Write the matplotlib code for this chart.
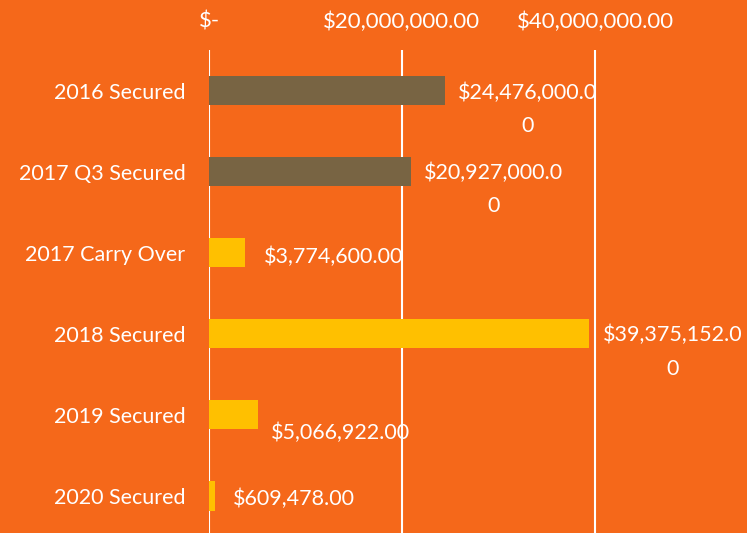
import matplotlib
matplotlib.use("Agg")
import matplotlib.pyplot as plt
from matplotlib.ticker import FixedLocator

categories = ["2016 Secured", "2017 Q3 Secured", "2017 Carry Over",
              "2018 Secured", "2019 Secured", "2020 Secured"]
amounts = [24476000.00, 20927000.00, 3774600.00, 39375152.00, 5066922.00, 609478.00]
bar_colors = ["#786443", "#786443", "#FFC000", "#FFC000", "#FFC000", "#FFC000"]
tick_values = [0, 20000000, 40000000]
tick_labels = ["$-", "$20,000,000.00", "$40,000,000.00"]

# label nudges in pixels (dx from bar end, dy from bar centre)
label_dx = [13, 13, 18, 14, 13, 18]
label_dy = [-10, -9, -2, -9, -16, -1]

BG = "#F5681A"
plt.rcParams["font.family"] = ["Lato", "DejaVu Sans"]

fig = plt.figure(figsize=(7.47, 5.33), dpi=100, facecolor=BG)
ax = fig.add_axes([209 / 747, -3.5 / 533, 538 / 747, 486.5 / 533], facecolor=BG)

ypos = list(range(len(categories)))
ax.barh(ypos, amounts, height=0.36, color=bar_colors, zorder=3)

ax.set_ylim(len(categories) - 0.5, -0.5)
ax.set_xlim(0, 538 / 193 * 20000000)
ax.set_yticks(ypos)
ax.set_yticklabels(categories)
ax.xaxis.set_major_locator(FixedLocator(tick_values))
ax.set_xticklabels(tick_labels)
ax.xaxis.tick_top()
ax.tick_params(axis="x", length=0, pad=13, labelsize=16, colors="white")
ax.tick_params(axis="y", length=0, pad=17, labelsize=15.5, colors="white")
ax.grid(axis="x", color="white", linewidth=1.5, zorder=1)
for s in ax.spines.values():
    s.set_visible(False)

for i, v in enumerate(amounts):
    txt = f"${v:,.2f}"
    if len(txt) > 13:
        txt = txt[:13] + "\n" + txt[13:]
    ax.annotate(txt, xy=(v, i), xytext=(label_dx[i], label_dy[i]),
                textcoords="offset pixels", ha="left", va="center_baseline",
                multialignment="center", linespacing=1.85,
                color="white", fontsize=15.5, zorder=4, annotation_clip=False)

fig.savefig("out.png", dpi=100, facecolor=BG)
